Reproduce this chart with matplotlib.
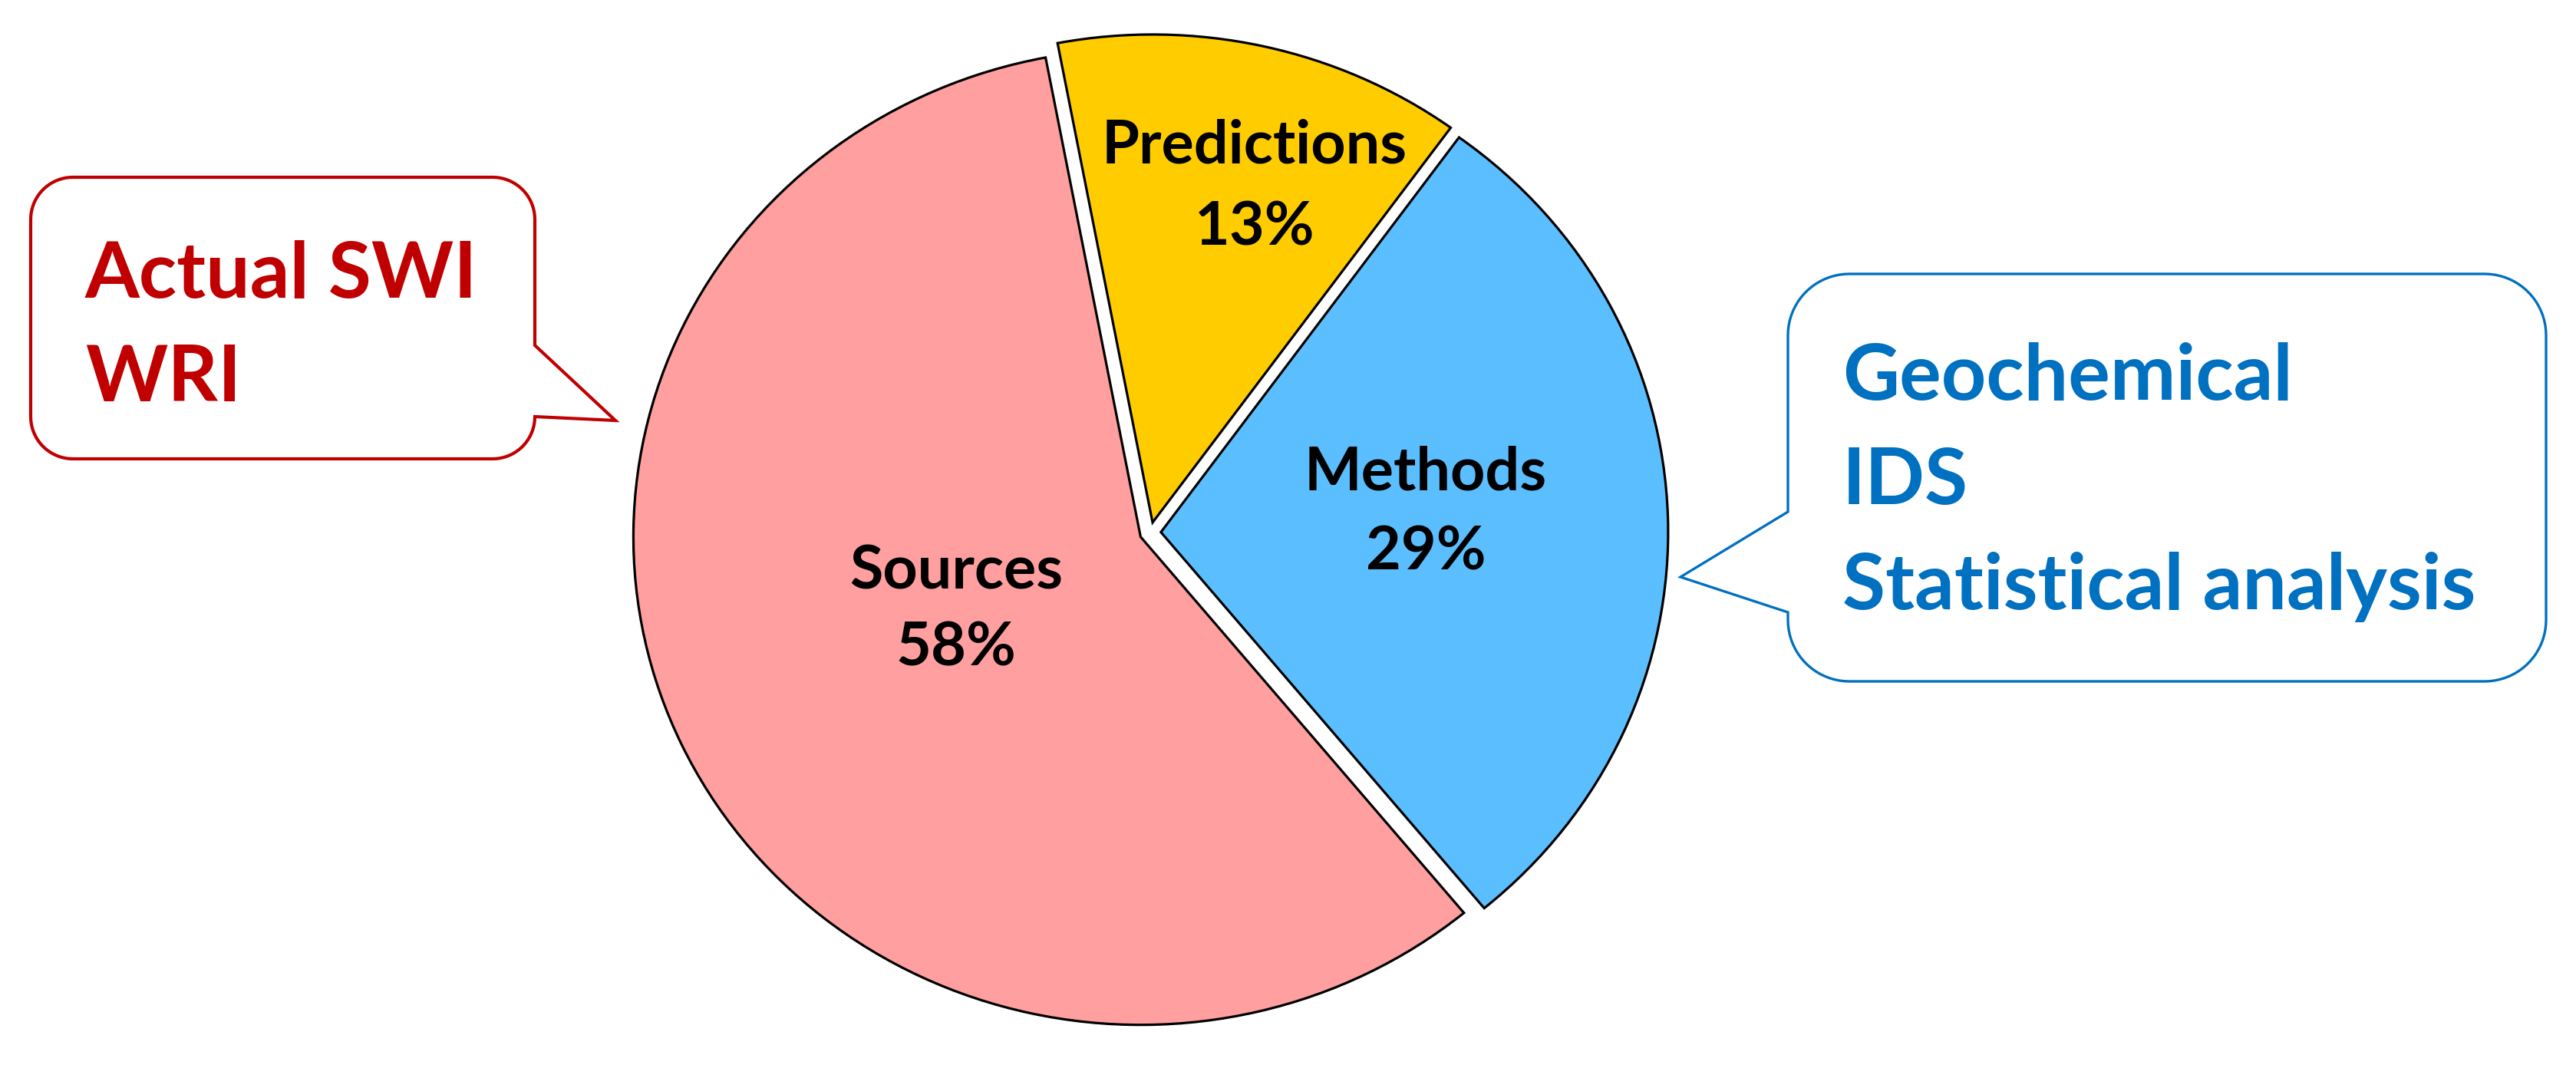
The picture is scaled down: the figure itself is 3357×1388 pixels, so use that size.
import numpy as np
import matplotlib
matplotlib.use('Agg')
import matplotlib.pyplot as plt
from matplotlib.patches import Polygon

# ---- data ----
categories = ['Predictions', 'Methods', 'Sources']
shares = [13, 29, 58]
colors = ['#FFCC00', '#5BBFFF', '#FF9F9F']
left_items = ['Actual SWI', 'WRI']
right_items = ['Geochemical', 'IDS', 'Statistical analysis']

FONT = ['Lato', 'DejaVu Sans']
plt.rcParams['font.family'] = FONT

W, H = 3357, 1388
fig = plt.figure(figsize=(W / 100, H / 100), dpi=100)
fig.patch.set_facecolor('white')

# pie axes: pie center / radii in pixels
CX, CY, RX, RY = 1499, 694, 661, 636
ax = fig.add_axes([0, 0, 1, 1])
wedges, _ = ax.pie(shares, colors=colors, startangle=100.8, counterclock=False,
                   explode=[0.021] * len(shares),
                   wedgeprops=dict(edgecolor='black', linewidth=2.3, joinstyle='miter'))
ax.set_aspect('auto')
ax.set_xlim(-CX / RX, (W - CX) / RX)
ax.set_ylim((CY - H) / RY, CY / RY)
ax.axis('off')

# overlay axes in pixel coordinates (y down)
ov = fig.add_axes([0, 0, 1, 1], zorder=3)
ov.set_xlim(0, W)
ov.set_ylim(H, 0)
ov.axis('off')
ov.patch.set_alpha(0)

# wedge labels
label_pos = {'Predictions': (1635, 212, 319),
             'Methods': (1858, 638, 742),
             'Sources': (1246, 767, 867)}
for cat, val in zip(categories, shares):
    x, b1, b2 = label_pos[cat]
    ov.text(x, b1, cat, ha='center', va='baseline', fontsize=57,
            fontweight='bold', color='black', family=FONT)
    ov.text(x, b2, f'{val}%', ha='center', va='baseline', fontsize=57,
            fontweight='bold', color='black', family=FONT)


def arc(cx, cy, r, t0, t1, n=20):
    t = np.radians(np.linspace(t0, t1, n))
    return list(zip(cx + r * np.cos(t), cy + r * np.sin(t)))


def callout(x0, y0, x1, y1, r, side, p1y, tip, p2y):
    pts = []
    pts += arc(x1 - r, y0 + r, r, -90, 0)
    if side == 'right':
        pts += [(x1, p1y), tip, (x1, p2y)]
    pts += arc(x1 - r, y1 - r, r, 0, 90)
    pts += arc(x0 + r, y1 - r, r, 90, 180)
    if side == 'left':
        pts += [(x0, p2y), tip, (x0, p1y)]
    pts += arc(x0 + r, y0 + r, r, 180, 270)
    return pts


red = '#C00000'
blue = '#0070C0'

ov.add_patch(Polygon(callout(40, 231, 697, 598, 55, 'right', 450, (802, 548), 543),
                     closed=True, facecolor='white', edgecolor=red,
                     linewidth=3.0, joinstyle='miter'))
ov.add_patch(Polygon(callout(2330, 357, 3318, 888, 80, 'left', 667, (2190, 752), 798),
                     closed=True, facecolor='white', edgecolor=blue,
                     linewidth=2.4, joinstyle='miter'))

for txt, base in zip(left_items, [388, 523]):
    ov.text(111, base, txt, ha='left', va='baseline', fontsize=73.5,
            fontweight='bold', color=red, family=FONT)
for txt, base in zip(right_items, [521, 657, 794]):
    ov.text(2401, base, txt, ha='left', va='baseline', fontsize=73.5,
            fontweight='bold', color=blue, family=FONT)

fig.savefig('out.png', dpi=100, facecolor='white')
